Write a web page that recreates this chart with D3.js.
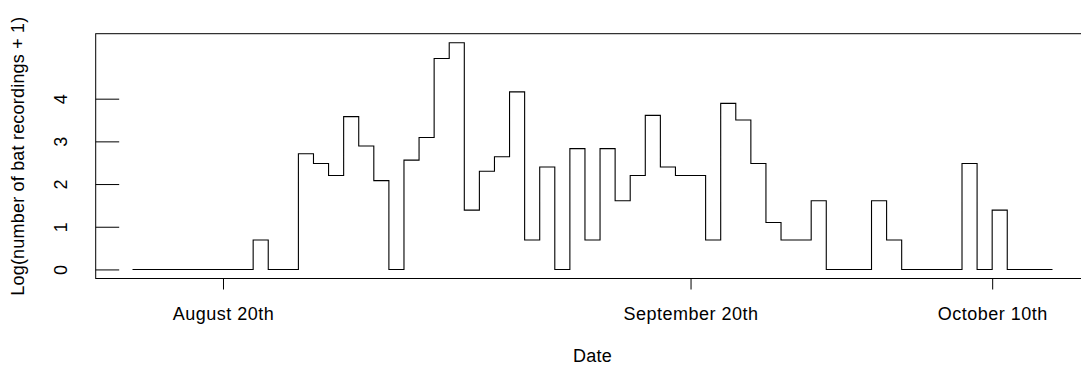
<!DOCTYPE html>
<html>
<head>
<meta charset="utf-8">
<script src="https://cdn.jsdelivr.net/npm/d3@7"></script>
<style>
  body { margin: 0; background: #fff; }
  svg { display: block; font-family: "Liberation Sans", Arial, sans-serif; }
</style>
</head>
<body>
<svg id="chart"></svg>
<script>
// nightly values, log(count + 1)
const dates = [
  "2019-08-14", "2019-08-15", "2019-08-16", "2019-08-17", "2019-08-18", "2019-08-19",
  "2019-08-20", "2019-08-21", "2019-08-22", "2019-08-23", "2019-08-24", "2019-08-25",
  "2019-08-26", "2019-08-27", "2019-08-28", "2019-08-29", "2019-08-30", "2019-08-31",
  "2019-09-01", "2019-09-02", "2019-09-03", "2019-09-04", "2019-09-05", "2019-09-06",
  "2019-09-07", "2019-09-08", "2019-09-09", "2019-09-10", "2019-09-11", "2019-09-12",
  "2019-09-13", "2019-09-14", "2019-09-15", "2019-09-16", "2019-09-17", "2019-09-18",
  "2019-09-19", "2019-09-20", "2019-09-21", "2019-09-22", "2019-09-23", "2019-09-24",
  "2019-09-25", "2019-09-26", "2019-09-27", "2019-09-28", "2019-09-29", "2019-09-30",
  "2019-10-01", "2019-10-02", "2019-10-03", "2019-10-04", "2019-10-05", "2019-10-06",
  "2019-10-07", "2019-10-08", "2019-10-09", "2019-10-10", "2019-10-11", "2019-10-12",
  "2019-10-13", "2019-10-14"
];
const values = [
  0, 0, 0, 0, 0, 0,
  0, 0, 0.69, 0, 0, 2.71,
  2.48, 2.20, 3.58, 2.89, 2.08, 0,
  2.56, 3.09, 4.94, 5.31, 1.39, 2.30,
  2.64, 4.16, 0.69, 2.40, 0, 2.83,
  0.69, 2.83, 1.61, 2.20, 3.61, 2.40,
  2.20, 2.20, 0.69, 3.89, 3.50, 2.48,
  1.10, 0.69, 0.69, 1.61, 0, 0,
  0, 1.61, 0.69, 0, 0, 0,
  0, 2.48, 0, 1.39, 0, 0,
  0, 0
];
const yTicks = [0, 1, 2, 3, 4];
const xTickDates = ["2019-08-20", "2019-09-20", "2019-10-10"];
const xTickLabels = ["August 20th", "September 20th", "October 10th"];

const width = 1081, height = 365;
const plot = { left: 95.7, right: 1089.3, top: 33.7, bottom: 278.5 };

const parse = d3.utcParse("%Y-%m-%d");
const data = dates.map((d, i) => ({ date: parse(d), value: values[i] }));

// R style 4% padding on both axes
const ext = d3.extent(data, d => d.date);
const xPad = (ext[1] - ext[0]) * 0.04;
const x = d3.scaleUtc()
    .domain([new Date(+ext[0] - xPad), new Date(+ext[1] + xPad)])
    .range([plot.left, plot.right]);

const yMax = d3.max(values);
const y = d3.scaleLinear()
    .domain([-yMax * 0.04, yMax * 1.04])
    .range([plot.bottom, plot.top]);

const svg = d3.select("#chart")
    .attr("width", width)
    .attr("height", height)
    .attr("viewBox", [0, 0, width, height]);

svg.append("rect")
    .attr("x", plot.left)
    .attr("y", plot.top)
    .attr("width", plot.right - plot.left)
    .attr("height", plot.bottom - plot.top)
    .attr("fill", "none")
    .attr("stroke", "#000")
    .attr("stroke-width", 1);

const line = d3.line()
    .x(d => x(d.date))
    .y(d => y(d.value))
    .curve(d3.curveStepAfter);

svg.append("path")
    .datum(data)
    .attr("fill", "none")
    .attr("stroke", "#000")
    .attr("stroke-width", 1.1)
    .attr("d", line);

// y axis: ticks pointing left into the margin, rotated labels
const yAxis = svg.append("g")
    .attr("transform", `translate(${plot.left + 23.5},0)`)
    .call(d3.axisLeft(y).tickValues(yTicks).tickSize(23.5).tickFormat(d3.format("d")));
yAxis.select(".domain").remove();
yAxis.selectAll(".tick line").attr("stroke", "#000");
yAxis.selectAll(".tick text")
    .attr("x", null).attr("dy", null)
    .attr("transform", "translate(-52,0) rotate(-90)")
    .attr("text-anchor", "middle")
    .attr("fill", "#000")
    .style("font-size", "18px")
    .style("font-family", "'Liberation Sans', Arial, sans-serif");

// x axis
const xAxis = svg.append("g")
    .attr("transform", `translate(0,${plot.bottom})`)
    .call(d3.axisBottom(x)
        .tickValues(xTickDates.map(parse))
        .tickSize(11)
        .tickFormat((d, i) => xTickLabels[i]));
xAxis.select(".domain").remove();
xAxis.selectAll(".tick line").attr("stroke", "#000");
xAxis.selectAll(".tick text")
    .attr("y", 41.5).attr("dy", null)
    .attr("fill", "#000")
    .style("font-size", "18px")
    .style("letter-spacing", "0.5px")
    .style("font-family", "'Liberation Sans', Arial, sans-serif");

svg.append("text")
    .attr("x", (plot.left + plot.right) / 2)
    .attr("y", 362)
    .attr("text-anchor", "middle")
    .style("font-size", "18px")
    .style("letter-spacing", "0.3px")
    .text("Date");

svg.append("text")
    .attr("transform", `translate(23.5,${(plot.top + plot.bottom) / 2}) rotate(-90)`)
    .attr("text-anchor", "middle")
    .style("font-size", "18px")
    .style("letter-spacing", "0.2px")
    .text("Log(number of bat recordings + 1)");
</script>
</body>
</html>
